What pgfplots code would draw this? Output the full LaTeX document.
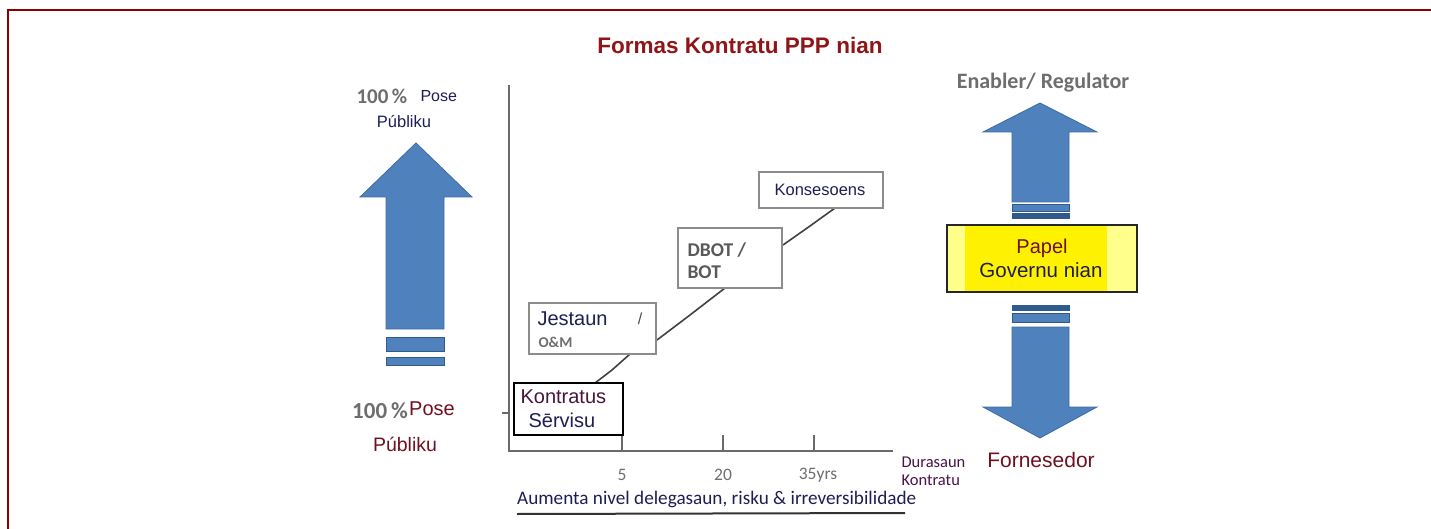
\documentclass[border=0pt]{standalone}
\usepackage{fontspec}
\setmainfont{Liberation Sans}
\newfontfamily\calf{Carlito}
\usepackage{pgfplots}
\pgfplotsset{compat=1.18}
\definecolor{arrowblue}{HTML}{4F81BD}
\definecolor{arrowedge}{HTML}{3C6DA6}
\definecolor{darkbar}{HTML}{2F5B8C}
\definecolor{framered}{HTML}{8B0000}
\definecolor{titlered}{HTML}{8E1518}
\definecolor{navytxt}{HTML}{1E1E55}
\definecolor{maroontxt}{HTML}{6E1020}
\definecolor{purpletxt}{HTML}{4A1248}
\definecolor{graytxt}{HTML}{6E6E6E}
\definecolor{axisgray}{HTML}{6A6A6A}
\definecolor{boxgray}{HTML}{8C8C8C}
\definecolor{paleyellow}{HTML}{FFFF8C}
\newcommand\fs[1]{\fontsize{#1}{#1}\selectfont}
\begin{document}
\begin{tikzpicture}
\useasboundingbox (0,0) rectangle (1431pt,529pt);
\begin{axis}[
  hide axis, scale only axis,
  width=1431pt, height=529pt,
  xmin=0, xmax=1431, ymin=0, ymax=529,
  y dir=reverse, clip=false,
]
% frame
\addplot[framered, line width=2.4pt] coordinates {(8,529) (8,10) (1431,10)};
% title
\node[text=titlered, font=\fs{22.5}\bfseries] at (axis cs:740,45) {Formas Kontratu PPP nian};

% left up arrow
\addplot[fill=arrowblue, draw=arrowedge, line width=0.8pt] coordinates
 {(386,329) (386,197) (360,197) (416,143) (472,197) (444,197) (444,329)} -- cycle;
\addplot[fill=arrowblue, draw=darkbar, line width=0.8pt] coordinates
 {(386,337) (444,337) (444,351) (386,351)} -- cycle;
\addplot[fill=arrowblue, draw=darkbar, line width=0.8pt] coordinates
 {(386,357) (444,357) (444,365) (386,365)} -- cycle;
\node[anchor=west, text=graytxt, font=\calf\fs{21}\bfseries] at (axis cs:353,96) {100\,\%};
\node[anchor=west, text=navytxt, font=\fs{16}] at (axis cs:417,96) {Pose};
\node[text=navytxt, font=\fs{16.5}] at (axis cs:404,122) {Públiku};
\node[anchor=west, inner xsep=0pt, text=graytxt, font=\calf\fs{23}\bfseries] at (axis cs:352,411) {100\,\%};
\node[anchor=west, inner xsep=0pt, text=maroontxt, font=\fs{20}] at (axis cs:409,409) {Pose};
\node[text=maroontxt, font=\fs{19.5}] at (axis cs:405,444) {Públiku};

% chart axes
\addplot[axisgray, line width=2pt] coordinates {(509,85) (509,451) (893,451)};
\addplot[axisgray, line width=1.5pt] coordinates {(502,413) (509,413)};
\addplot[axisgray, line width=1.5pt] coordinates {(622,435) (622,451)};
\addplot[axisgray, line width=1.5pt] coordinates {(723,435) (723,451)};
\addplot[axisgray, line width=1.5pt] coordinates {(814,435) (814,451)};
\node[text=graytxt, font=\calf\fs{17.5}] at (axis cs:622,475) {5};
\node[text=graytxt, font=\calf\fs{17.5}] at (axis cs:723,475) {20};
\node[text=graytxt, font=\calf\fs{17.5}] at (axis cs:818,475) {35yrs};
\node[anchor=west, text=purpletxt, font=\calf\fs{16.5}] at (axis cs:898,462) {Durasaun};
\node[anchor=west, text=purpletxt, font=\calf\fs{16.5}] at (axis cs:898,480) {Kontratu};
\node[anchor=west, inner xsep=0pt, text=navytxt, font=\calf\fs{19.2}] at (axis cs:517,499) {Aumenta nivel delegasaun, risku \& irreversibilidade};
\addplot[black!80, line width=2pt] coordinates {(517,514) (905,513)};

% connectors
\addplot[black!75, line width=1.6pt] coordinates {(595,383) (612,370) (630,354)};
\addplot[black!75, line width=1.6pt] coordinates {(657,340) (690,315) (725,288)};
\addplot[black!75, line width=1.6pt] coordinates {(783,245) (810,226) (835,208)};

% boxes
\addplot[draw=boxgray, fill=white, line width=1.8pt] coordinates {(529,303) (656,303) (656,354) (529,354)} -- cycle;
\addplot[draw=boxgray, fill=white, line width=1.8pt] coordinates {(678,228) (782,228) (782,288) (678,288)} -- cycle;
\addplot[draw=boxgray, fill=white, line width=1.8pt] coordinates {(759,172) (883,172) (883,208) (759,208)} -- cycle;
\addplot[draw=black, fill=white, line width=2.6pt] coordinates {(514,383) (623,383) (623,435) (514,435)} -- cycle;

\node[anchor=west, text=navytxt, font=\fs{20}] at (axis cs:534,319) {Jestaun};
\node[text=black!70, font=\fs{16}] at (axis cs:640,319) {/};
\node[anchor=west, text=graytxt, font=\calf\fs{15}\bfseries] at (axis cs:535,342) {O\&M};
\node[anchor=west, text=black!65, font=\calf\fs{19.5}\bfseries] at (axis cs:684,250) {DBOT /};
\node[anchor=west, text=black!65, font=\calf\fs{19.5}\bfseries] at (axis cs:684,272) {BOT};
\node[text=navytxt, font=\fs{16.5}] at (axis cs:820,190) {Konsesoens};
\node[anchor=west, text=maroontxt!50!navytxt, font=\fs{20}] at (axis cs:517,397) {Kontratus};
\node[anchor=west, text=navytxt, font=\fs{20}] at (axis cs:525,420) {Sērvisu};

% right arrows
\node[text=graytxt, font=\calf\fs{22}\bfseries] at (axis cs:1043,83) {Enabler/ Regulator};
\addplot[fill=arrowblue, draw=arrowedge, line width=0.8pt] coordinates
 {(1012,202) (1012,132) (983,132) (1040,103) (1097,132) (1069,132) (1069,202)} -- cycle;
\addplot[fill=arrowblue, draw=darkbar, line width=0.8pt] coordinates
 {(1012,204) (1069,204) (1069,211) (1012,211)} -- cycle;
\addplot[fill=darkbar, draw=darkbar, line width=0.8pt] coordinates
 {(1012,213) (1069,213) (1069,218) (1012,218)} -- cycle;
\addplot[fill=darkbar, draw=darkbar, line width=0.8pt] coordinates
 {(1012,305) (1069,305) (1069,310) (1012,310)} -- cycle;
\addplot[fill=arrowblue, draw=darkbar, line width=0.8pt] coordinates
 {(1012,313) (1069,313) (1069,322) (1012,322)} -- cycle;
\addplot[fill=arrowblue, draw=arrowedge, line width=0.8pt] coordinates
 {(1012,327) (1012,407) (983,407) (1040,438) (1097,407) (1069,407) (1069,327)} -- cycle;

% yellow box
\addplot[fill=paleyellow, draw=none] coordinates {(947,225) (1137,225) (1137,292) (947,292)} -- cycle;
\addplot[fill=yellow, draw=none] coordinates {(965,226) (1107,226) (1107,291) (965,291)} -- cycle;
\addplot[draw=black!85, line width=2pt] coordinates {(947,225) (1137,225) (1137,292) (947,292)} -- cycle;
\node[text=maroontxt, font=\fs{20}] at (axis cs:1042,248) {Papel};
\node[text=navytxt, font=\fs{20.5}] at (axis cs:1041,270) {Governu nian};
\node[text=maroontxt, font=\fs{21}] at (axis cs:1041,460) {Fornesedor};
\end{axis}
\end{tikzpicture}
\end{document}
